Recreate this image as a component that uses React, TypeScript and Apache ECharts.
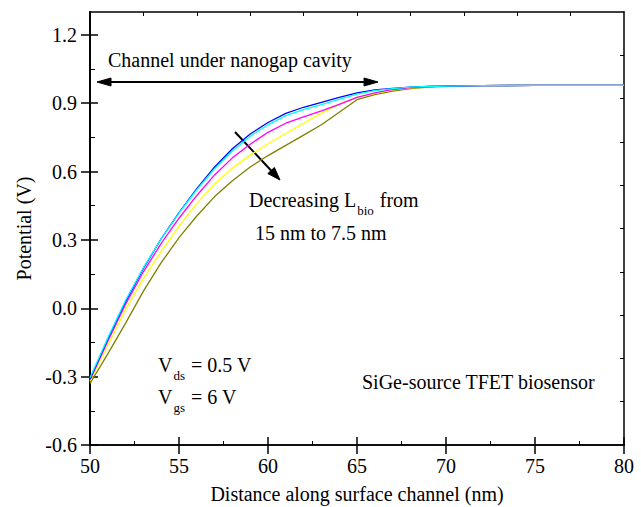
import React, { useEffect, useRef } from "react";
import * as echarts from "echarts";

const xValues = [50, 51, 52, 53, 54, 55, 56, 57, 58, 59, 60, 61, 62, 63, 64, 65, 66, 67, 68, 69, 70, 72, 75, 80];
const blueVals = [-0.31, -0.135, 0.03, 0.175, 0.305, 0.42, 0.525, 0.62, 0.7, 0.765, 0.815, 0.855, 0.882, 0.903, 0.925, 0.945, 0.958, 0.965, 0.97, 0.973, 0.975, 0.977, 0.978, 0.978];
const cyanVals = [-0.305, -0.13, 0.035, 0.178, 0.305, 0.418, 0.52, 0.612, 0.69, 0.755, 0.805, 0.845, 0.872, 0.894, 0.917, 0.94, 0.955, 0.964, 0.97, 0.973, 0.975, 0.977, 0.978, 0.978];
const magentaVals = [-0.315, -0.145, 0.018, 0.16, 0.285, 0.395, 0.495, 0.585, 0.66, 0.72, 0.772, 0.812, 0.84, 0.866, 0.895, 0.925, 0.945, 0.96, 0.968, 0.973, 0.975, 0.977, 0.978, 0.978];
const yellowVals = [-0.32, -0.162, -0.005, 0.13, 0.25, 0.36, 0.46, 0.545, 0.615, 0.672, 0.722, 0.767, 0.812, 0.856, 0.895, 0.925, 0.943, 0.958, 0.967, 0.972, 0.975, 0.977, 0.978, 0.978];
const oliveVals = [-0.33, -0.2, -0.065, 0.075, 0.2, 0.31, 0.405, 0.49, 0.56, 0.62, 0.67, 0.715, 0.76, 0.805, 0.86, 0.915, 0.937, 0.953, 0.964, 0.97, 0.974, 0.977, 0.978, 0.978];

const yMajorTicks = [-0.6, -0.3, 0, 0.3, 0.6, 0.9, 1.2];
const yMinorTicks = [-0.45, -0.15, 0.15, 0.45, 0.75, 1.05];
const yRightTicks = [1.11, 0.92, 0.73, 0.54, 0.35, 0.16, -0.03, -0.22, -0.41];
const xTopTicks = [53, 56, 59, 62, 65, 68, 71, 74, 77];

const FONT = "Liberation Serif, Times New Roman, serif";

function measure(text: string, size: number): number {
  const c = document.createElement("canvas").getContext("2d");
  if (!c) return text.length * size * 0.5;
  c.font = `${size}px ${FONT}`;
  return c.measureText(text).width;
}

function subText(x: number, y: number, main: string, sub: string, rest: string, size: number, subSize: number, subDy: number) {
  const w1 = measure(main, size);
  const w2 = measure(sub, subSize);
  const st = (t: string, fs: number) => ({ text: t, fontSize: fs, fontFamily: FONT, fill: "#000", align: "left", verticalAlign: "middle" });
  return [
    { type: "text", x, y, style: st(main, size) },
    { type: "text", x: x + w1 + 1, y: y + subDy, style: st(sub, subSize) },
    { type: "text", x: x + w1 + w2 + 2, y, style: st(rest, size) },
  ];
}

export default function App() {
  const ref = useRef<HTMLDivElement>(null);
  useEffect(() => {
    if (!ref.current) return;
    const chart = echarts.init(ref.current, null, { renderer: "svg" });
    const axisLine = { show: true, onZero: false, lineStyle: { color: "#000", width: 1.5 } };
    const mk = (vals: number[], color: string, name: string) => ({
      type: "line",
      name,
      xAxisIndex: 0,
      yAxisIndex: 0,
      showSymbol: false,
      symbol: "none",
      lineStyle: { color, width: 1.3 },
      data: xValues.map((x, i) => [x, vals[i]]),
    });
    const baseX = { type: "value", min: 50, max: 80, gridIndex: 0, splitLine: { show: false }, axisLine };
    const baseY = { type: "value", min: -0.6, max: 1.3, gridIndex: 0, splitLine: { show: false }, axisLine };

    const tickLine = { color: "#000", width: 1.5 };
    const thinLine = { color: "#000", width: 1 };

    const arrowStyle = { fill: "#000", stroke: "#000", lineWidth: 1 };
    const ax0 = 235, ay0 = 132, ax1 = 280, ay1 = 180;
    const dx = ax1 - ax0, dy = ay1 - ay0;
    const len = Math.sqrt(dx * dx + dy * dy);
    const ux = dx / len, uy = dy / len;
    const bx = ax1 - 13 * ux, by = ay1 - 13 * uy;
    const px = -uy, py = ux;

    chart.setOption({
      animation: false,
      backgroundColor: "#fff",
      textStyle: { fontFamily: FONT },
      grid: { left: 90, right: 17, top: 12, bottom: 62, containLabel: false, outerBoundsMode: "none" },
      xAxis: [
        {
          ...baseX,
          position: "bottom",
          interval: 5,
          name: "Distance along surface channel (nm)",
          nameLocation: "middle",
          nameGap: 39,
          nameTextStyle: { fontSize: 20, fontFamily: FONT, color: "#000" },
          axisLabel: { fontSize: 20, fontFamily: FONT, color: "#000", margin: 11 },
          axisTick: { show: true, inside: false, length: 9, lineStyle: tickLine },
        },
        {
          ...baseX,
          position: "bottom",
          interval: 5,
          axisLabel: { show: false },
          axisTick: { show: true, inside: true, length: 8, lineStyle: tickLine },
          minorTick: { show: true, splitNumber: 2, length: 4, lineStyle: thinLine },
        },
        {
          ...baseX,
          position: "top",
          axisLabel: { show: false },
          axisTick: { show: true, inside: true, length: 4, lineStyle: thinLine, customValues: xTopTicks },
        },
      ],
      yAxis: [
        {
          ...baseY,
          position: "left",
          name: "Potential (V)",
          nameLocation: "middle",
          nameGap: 53,
          nameRotate: 90,
          nameTextStyle: { fontSize: 20, fontFamily: FONT, color: "#000" },
          axisLabel: {
            fontSize: 20,
            fontFamily: FONT,
            color: "#000",
            margin: 13,
            customValues: yMajorTicks,
            formatter: (v: number) => v.toFixed(1),
          },
          axisTick: { show: true, inside: false, length: 9, lineStyle: tickLine, customValues: yMajorTicks },
        },
        {
          ...baseY,
          position: "left",
          axisLabel: { show: false },
          axisTick: { show: true, inside: true, length: 8, lineStyle: tickLine, customValues: yMajorTicks },
        },
        {
          ...baseY,
          position: "left",
          axisLabel: { show: false },
          axisTick: { show: true, inside: true, length: 5, lineStyle: thinLine, customValues: yMinorTicks },
        },
        {
          ...baseY,
          position: "right",
          axisLabel: { show: false },
          axisTick: { show: true, inside: true, length: 4, lineStyle: thinLine, customValues: yRightTicks },
        },
      ],
      series: [
        mk(oliveVals, "#808000", "7.5 nm"),
        mk(yellowVals, "#FFFF00", "L4"),
        mk(magentaVals, "#FF00FF", "L3"),
        mk(blueVals, "#0000FF", "15 nm"),
        mk(cyanVals, "#00FFFF", "L2"),
      ],
      graphic: [
        {
          type: "text",
          x: 108,
          y: 60,
          style: { text: "Channel under nanogap cavity", fontSize: 20, fontFamily: FONT, fill: "#000", align: "left", verticalAlign: "middle" },
        },
        { type: "line", shape: { x1: 108, y1: 82, x2: 366, y2: 82 }, style: { stroke: "#000", lineWidth: 2 } },
        { type: "polygon", shape: { points: [[97, 82], [111, 78], [111, 86]] }, style: arrowStyle },
        { type: "polygon", shape: { points: [[378, 82], [364, 78], [364, 86]] }, style: arrowStyle },
        { type: "line", shape: { x1: ax0, y1: ay0, x2: bx, y2: by }, style: { stroke: "#000", lineWidth: 2 } },
        {
          type: "polygon",
          shape: { points: [[ax1, ay1], [bx + 4.5 * px, by + 4.5 * py], [bx - 4.5 * px, by - 4.5 * py]] },
          style: arrowStyle,
        },
        ...subText(249, 200, "Decreasing L", "bio", " from", 20, 13, 10),
        {
          type: "text",
          x: 255,
          y: 233,
          style: { text: "15 nm to 7.5 nm", fontSize: 20, fontFamily: FONT, fill: "#000", align: "left", verticalAlign: "middle" },
        },
        ...subText(158, 365, "V", "ds", " = 0.5 V", 20, 13, 10),
        ...subText(158, 397, "V", "gs", " = 6 V", 20, 13, 10),
        {
          type: "text",
          x: 362,
          y: 382,
          style: { text: "SiGe-source TFET biosensor", fontSize: 20, fontFamily: FONT, fill: "#000", align: "left", verticalAlign: "middle" },
        },
      ],
    } as any);
    return () => chart.dispose();
  }, []);
  return <div ref={ref} style={{ position: "fixed", left: 0, top: 0, width: 641, height: 507, background: "#fff" }} />;
}
